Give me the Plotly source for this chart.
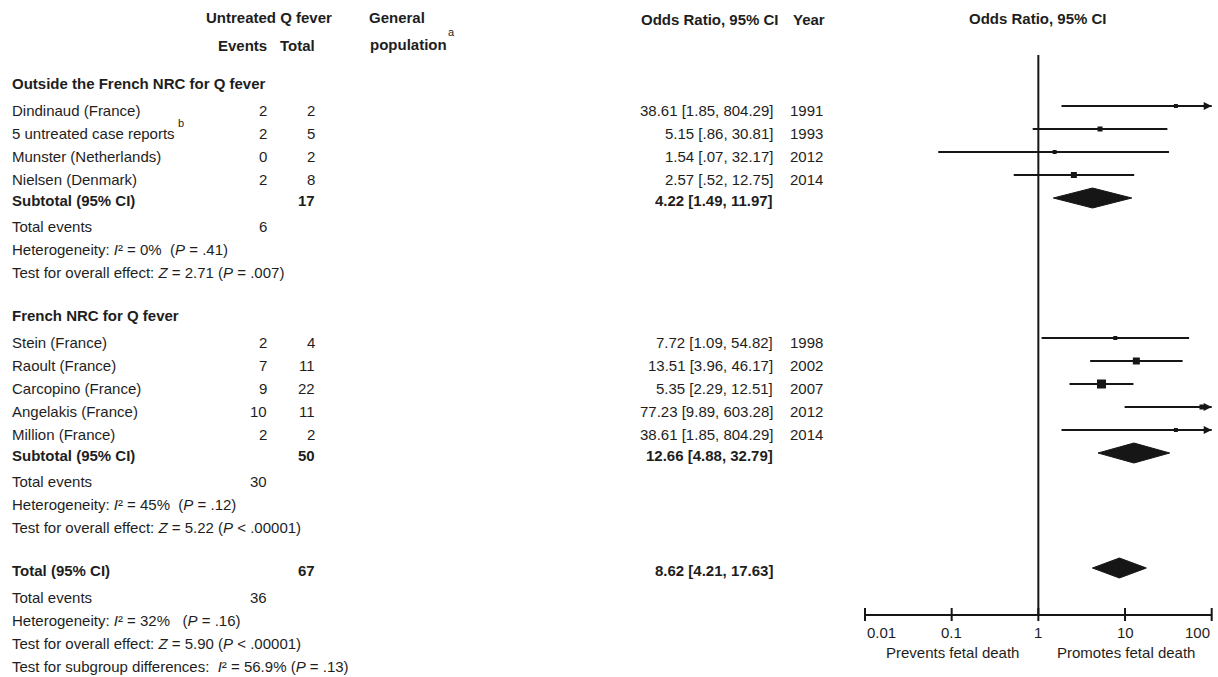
import numpy as np
import plotly.graph_objects as go

# ---------------- data ----------------
group_titles = ["Outside the French NRC for Q fever", "French NRC for Q fever"]

group1_studies = ["Dindinaud (France)", "5 untreated case reports",
                  "Munster (Netherlands)", "Nielsen (Denmark)"]
group1_events = [2, 2, 0, 2]
group1_totals = [2, 5, 2, 8]
group1_or = [38.61, 5.15, 1.54, 2.57]
group1_lo = [1.85, 0.86, 0.07, 0.52]
group1_hi = [804.29, 30.81, 32.17, 12.75]
group1_years = [1991, 1993, 2012, 2014]

group2_studies = ["Stein (France)", "Raoult (France)", "Carcopino (France)",
                  "Angelakis (France)", "Million (France)"]
group2_events = [2, 7, 9, 10, 2]
group2_totals = [4, 11, 22, 11, 2]
group2_or = [7.72, 13.51, 5.35, 77.23, 38.61]
group2_lo = [1.09, 3.96, 2.29, 9.89, 1.85]
group2_hi = [54.82, 46.17, 12.51, 603.28, 804.29]
group2_years = [1998, 2002, 2007, 2012, 2014]

subtotal_or = [4.22, 12.66]
subtotal_lo = [1.49, 4.88]
subtotal_hi = [11.97, 32.79]
subtotal_i2 = ["0%", "45%"]
subtotal_het_p = ["= .41", "= .12"]
subtotal_z = ["2.71", "5.22"]
subtotal_z_p = ["= .007", "< .00001"]

total_or = 8.62
total_lo = 4.21
total_hi = 17.63
total_i2 = "32%"
total_het_p = "= .16"
total_z = "5.90"
total_z_p = "< .00001"
subgroup_i2 = "56.9%"
subgroup_p = "= .13"

axis_ticks = [0.01, 0.1, 1, 10, 100]
axis_tick_labels = ["0.01", "0.1", "1", "10", "100"]

# ---------------- styling / layout ----------------
W, H = 1218, 677
FONT = "Liberation Sans, Arial, Helvetica, sans-serif"
FS = 15
TXT = "#1e1e1e"
INK = "#161616"

group1_sq = [4, 5, 4, 6]
group2_sq = [4, 7, 9, 5, 4]

# columns (pixels)
X_NAME = 10
X_EVENTS = 269
X_TOTAL = 317
X_OR = 775
X_YEAR = 788

# forest panel: pixel positions of 0.01 and 100
PX_LO, PX_HI = 865.0, 1211.7
DEC = (PX_HI - PX_LO) / 4.0
PAD = 0.05
AXIS_Y = 615
LINE_TOP = 55
CLIP = 100.0

groups = [
    dict(title=group_titles[0], names=group1_studies, ev=group1_events, tot=group1_totals,
         est=group1_or, lo=group1_lo, hi=group1_hi, yr=group1_years, sq=group1_sq),
    dict(title=group_titles[1], names=group2_studies, ev=group2_events, tot=group2_totals,
         est=group2_or, lo=group2_lo, hi=group2_hi, yr=group2_years, sq=group2_sq),
]


def fmt(v):
    s = f"{v:.2f}"
    return s[1:] if s.startswith("0.") else s


def ci_text(e, l, h):
    return f"{fmt(e)} [{fmt(l)}, {fmt(h)}]"


annotations = []


def txt(xpx, y, s, anchor="left", bold=False, size=FS, color=TXT):
    if bold:
        s = f"<b>{s}</b>"
    annotations.append(dict(
        x=xpx / W, xref="paper", y=y, yref="y", text=s, showarrow=False,
        xanchor=anchor, yanchor="middle", font=dict(family=FONT, size=size, color=color),
    ))


fig = go.Figure()


def add_study(y, est, lo, hi, sq):
    ym = y - 4
    hi_c = min(hi, CLIP)
    fig.add_trace(go.Scatter(x=[lo, hi_c], y=[ym, ym], mode="lines",
                             line=dict(color=INK, width=2), hoverinfo="skip"))
    fig.add_trace(go.Scatter(x=[est], y=[ym], mode="markers", cliponaxis=False,
                             marker=dict(symbol="square", size=sq, color=INK), hoverinfo="skip"))
    if hi > CLIP:
        fig.add_trace(go.Scatter(x=[CLIP], y=[ym], mode="markers", cliponaxis=False,
                                 marker=dict(symbol="arrow-right", size=8, color=INK),
                                 hoverinfo="skip"))


def add_diamond(y, est, lo, hi):
    ym = y - 2
    fig.add_trace(go.Scatter(x=[lo, est, hi, est, lo], y=[ym, ym - 10, ym, ym + 10, ym],
                             mode="lines", fill="toself", fillcolor=INK,
                             line=dict(color=INK, width=1), hoverinfo="skip"))


# header
txt(269, 17, "Untreated Q fever", "center", bold=True)
txt(X_EVENTS, 45, "Events", "right", bold=True)
txt(X_TOTAL, 45, "Total", "right", bold=True)
txt(367, 17, "General", "left", bold=True)
txt(368, 44, "population", "left", bold=True)
txt(446, 32, "a", "left", size=11)
txt(781, 19, "Odds Ratio, 95% CI", "right", bold=True)
txt(791, 19, "Year", "left", bold=True)
txt(1038, 18, "Odds Ratio, 95% CI", "center", bold=True)

# body rows
y = 83
for gi, g in enumerate(groups):
    txt(X_NAME, y, g["title"], bold=True)
    y += 27
    for k, name in enumerate(g["names"]):
        txt(X_NAME, y, name)
        if name.startswith("5 untreated"):
            txt(176, y - 10, "b", size=11)
        txt(X_EVENTS, y, str(g["ev"][k]), "right")
        txt(X_TOTAL, y, str(g["tot"][k]), "right")
        txt(X_OR, y, ci_text(g["est"][k], g["lo"][k], g["hi"][k]), "right")
        txt(X_YEAR, y, str(g["yr"][k]), "left")
        add_study(y, g["est"][k], g["lo"][k], g["hi"][k], g["sq"][k])
        y += 23
    y -= 2
    txt(X_NAME, y, "Subtotal (95% CI)", bold=True)
    txt(X_TOTAL, y, str(sum(g["tot"])), "right", bold=True)
    txt(X_OR, y, ci_text(subtotal_or[gi], subtotal_lo[gi], subtotal_hi[gi]), "right", bold=True)
    add_diamond(y, subtotal_or[gi], subtotal_lo[gi], subtotal_hi[gi])
    y += 26
    txt(X_NAME, y, "Total events")
    txt(X_EVENTS, y, str(sum(g["ev"])), "right")
    y += 23
    txt(X_NAME, y, f"Heterogeneity: <i>I</i>² = {subtotal_i2[gi]}  (<i>P</i> {subtotal_het_p[gi]})")
    y += 23
    txt(X_NAME, y, f"Test for overall effect: <i>Z</i> = {subtotal_z[gi]} (<i>P</i> {subtotal_z_p[gi]})")
    y += 43

all_ev = sum(sum(g["ev"]) for g in groups)
all_tot = sum(sum(g["tot"]) for g in groups)
txt(X_NAME, y, "Total (95% CI)", bold=True)
txt(X_TOTAL, y, str(all_tot), "right", bold=True)
txt(X_OR, y, ci_text(total_or, total_lo, total_hi), "right", bold=True)
add_diamond(y, total_or, total_lo, total_hi)
y += 27
txt(X_NAME, y, "Total events")
txt(X_EVENTS, y, str(all_ev), "right")
y += 23
txt(X_NAME, y, f"Heterogeneity: <i>I</i>² = {total_i2}   (<i>P</i> {total_het_p})")
y += 23
txt(X_NAME, y, f"Test for overall effect: <i>Z</i> = {total_z} (<i>P</i> {total_z_p})")
y += 23
txt(X_NAME, y, f"Test for subgroup differences:  <i>I</i>² = {subgroup_i2} (<i>P</i> {subgroup_p})")

# line of no effect
fig.add_trace(go.Scatter(x=[1, 1], y=[LINE_TOP, AXIS_Y], mode="lines",
                         line=dict(color=INK, width=2), hoverinfo="skip"))

# horizontal axis with crossing ticks
fig.add_trace(go.Scatter(x=[axis_ticks[0], axis_ticks[-1]], y=[AXIS_Y, AXIS_Y], mode="lines",
                         line=dict(color=INK, width=2), hoverinfo="skip"))
tx, ty = [], []
for t in axis_ticks:
    tx += [t, t, None]
    ty += [AXIS_Y - 7, AXIS_Y + 6, None]
fig.add_trace(go.Scatter(x=tx, y=ty, mode="lines", line=dict(color=INK, width=2),
                         hoverinfo="skip"))
for i, (t, lab) in enumerate(zip(axis_ticks, axis_tick_labels)):
    anchor = "left" if i == 0 else ("right" if i == len(axis_ticks) - 1 else "center")
    annotations.append(dict(x=np.log10(t), xref="x", y=632, yref="y", text=lab,
                            showarrow=False, xanchor=anchor, yanchor="middle",
                            font=dict(family=FONT, size=FS, color=TXT)))
txt(952, 652, "Prevents fetal death", "center")
txt(1126, 652, "Promotes fetal death", "center")

dom_l = (PX_LO - PAD * DEC) / W
dom_r = (PX_HI + PAD * DEC) / W

fig.update_layout(
    width=W, height=H,
    margin=dict(l=0, r=0, t=0, b=0),
    paper_bgcolor="white", plot_bgcolor="white",
    showlegend=False,
    font=dict(family=FONT, size=FS, color=TXT),
    xaxis=dict(type="log", range=[-2 - PAD, 2 + PAD], domain=[dom_l, dom_r],
               visible=False, fixedrange=True),
    yaxis=dict(range=[H, 0], domain=[0, 1], visible=False, fixedrange=True),
    annotations=annotations,
)

fig.write_html("out.html")
